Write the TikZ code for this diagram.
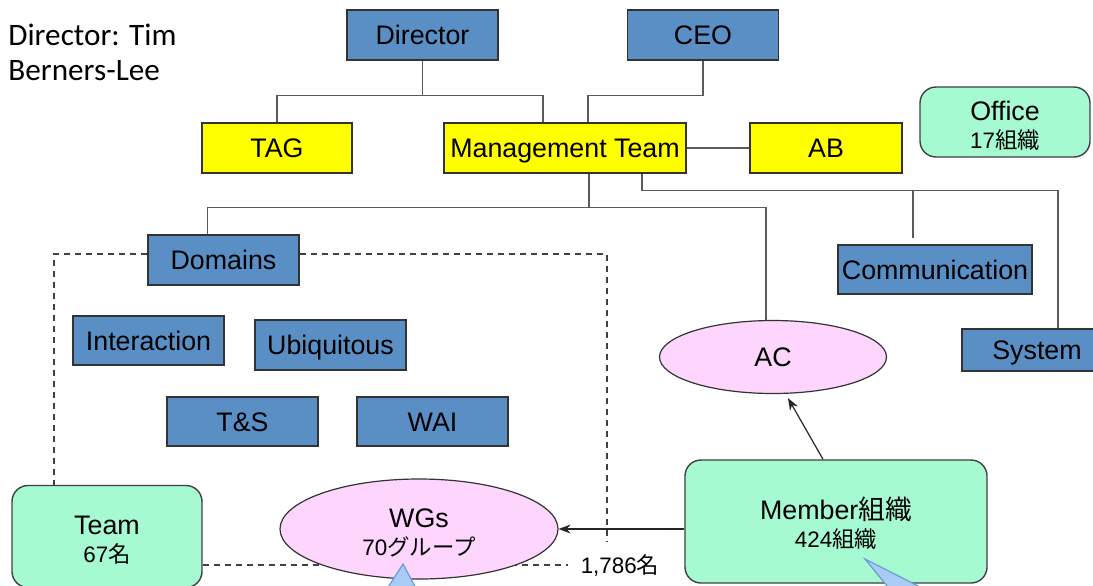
\documentclass[tikz,border=0pt]{standalone}
\usepackage{fontspec}
\setmainfont{Liberation Sans}
\newfontfamily\calibri{Carlito}
\newfontfamily\cjk{Noto Sans CJK JP}
\usepackage{xcolor}
\usetikzlibrary{positioning,shapes.geometric,arrows.meta}
\definecolor{unitblue}{HTML}{5A8FC5}
\definecolor{boardyellow}{HTML}{FFFF00}
\definecolor{orggreen}{HTML}{A5FAD2}
\definecolor{grouppink}{HTML}{FDD5FD}
\definecolor{calloutblue}{HTML}{A9CCF5}
\definecolor{calloutedge}{HTML}{6B9BD6}
\definecolor{linegray}{HTML}{5A5A5A}
\newcommand{\subline}{\fontsize{11.2}{14}\selectfont}
\tikzset{
unit/.style={draw=black!80, fill=unitblue, line width=0.7pt, inner sep=0pt, minimum width=75.5pt, minimum height=25pt, text height=9.6pt, text depth=0pt, font=\fontsize{13.4}{14}\selectfont},
board/.style={unit, fill=boardyellow},
org/.style={draw=black!75, fill=orggreen, line width=0.7pt, rounded corners=8pt, inner sep=0pt, align=center, font=\fontsize{13.4}{14}\selectfont},
group/.style={ellipse, draw=black!80, fill=grouppink, line width=0.6pt, inner sep=0pt, align=center, font=\fontsize{13.4}{14}\selectfont},
twoline/.style={text height=26pt, text depth=0pt},
link/.style={draw=linegray, line width=0.75pt},
border/.style={draw=black!75, dashed, dash pattern=on 3pt off 2.5pt, line width=0.6pt},
feed/.style={draw=black!85, line width=0.6pt, -{Stealth[length=6pt,width=4.5pt]}},
callout/.style={fill=calloutblue, draw=calloutedge, line width=0.6pt}
}

\begin{document}
\begin{tikzpicture}[x=0.5pt, y=-0.5pt]
  \useasboundingbox (0,0) rectangle (1093,585);
  \node[anchor=north west, align=left, inner sep=0pt, font=\calibri\fontsize{15.6}{17.5}\selectfont] (who) at (8,24) {Director: Tim\\Berners-Lee};
  % top of the tree
  \node[unit] (dir) at (422.5,35) {Director};
  \node[unit] (ceo) at (703,35) {CEO};
  \node[board, minimum width=75pt] (tag) at (277,148) {TAG};
  \node[board, minimum width=121pt] (mgmt) at (565,148) {Management Team};
  \node[board, minimum width=76pt] (ab) at (826,148) {AB};
  \node[org, twoline, minimum width=85pt, minimum height=35pt] (office) at (1005,122) {Office\\\subline 17{\cjk 組織}};
  % domains and staff
  \node[unit] (dom) at (223.5,260) {Domains};
  \node[unit, minimum height=24.5pt] (inter) at (148.5,340.5) {Interaction};
  \node[unit] (ubiq) at (330.5,345) {Ubiquitous};
  \node[unit, minimum height=24.5pt] (ts) at (242.5,421.5) {T\&S};
  \node[unit, minimum height=24.5pt] (wai) at (432.5,421.5) {WAI};
  \node[unit, minimum width=97pt, minimum height=24.5pt] (comm) at (935,269.5) {Communication};
  \node[unit, minimum width=75pt, minimum height=21pt] (sys) at (1037,350) {System};
  \node[group, minimum width=113.5pt, minimum height=36.5pt, text height=9.6pt, text depth=0pt] (ac) at (773,357) {AC};
  \node[org, twoline, minimum width=151pt, minimum height=61.5pt] (mem) at (836,521.5) {Member{\cjk 組織}\\\subline 424{\cjk 組織}};
  \node[org, twoline, minimum width=95pt, minimum height=51pt] (team) at (107,536.5) {Team\\\subline 67{\cjk 名}};
  \node[inner sep=0pt, font=\subline] (lbl) at (620,565) {1,786{\cjk 名}};
  \draw[border] (dom.west |- 0,254) -| (team.north -| 54,0);
  \draw[border] (dom.east |- 0,254) -| (607,542);
  \draw[border] (team.east |- lbl) -- ([xshift=-6pt]lbl.west);
  \node[group, twoline, minimum width=139pt, minimum height=50pt] (wgs) at (419,529) {WGs\\\subline 70{\cjk グループ}};
  % connectors
  \draw[link] (dir.south) -- ++(0,35) coordinate (dj);
  \draw[link] (tag.north) |- (dj) -| ([xshift=-11pt]mgmt.north);
  \draw[link] (ceo.south) -- ++(0,35) -| ([xshift=11.5pt]mgmt.north);
  \draw[link] (mgmt) -- (ab);
  \draw[link] ([xshift=12pt]mgmt.south) -- ++(0,34) coordinate (mj);
  \draw[link] ([xshift=-8pt]dom.north) |- (mj) -| ([xshift=-3.5pt]ac.north);
  \draw[link] ([xshift=38.5pt]mgmt.south) -- ++(0,17) coordinate (sj) -| ([xshift=10.5pt]sys.north);
  \draw[link] ([xshift=-11pt,yshift=3pt]comm.north) |- (sj);
  \draw[feed] (mem.west |- wgs.east) -- (wgs.east);
  \draw[feed] ([xshift=-6.5pt]mem.north) -- ([xshift=7.5pt,yshift=-2pt]ac.south);
  % callout pointers
  \draw[callout] (403,564) -- (385,592) -- (418,592) -- cycle;
  \draw[callout] (865,559) -- (892,592) -- (930,592) -- cycle;
\end{tikzpicture}
\end{document}
